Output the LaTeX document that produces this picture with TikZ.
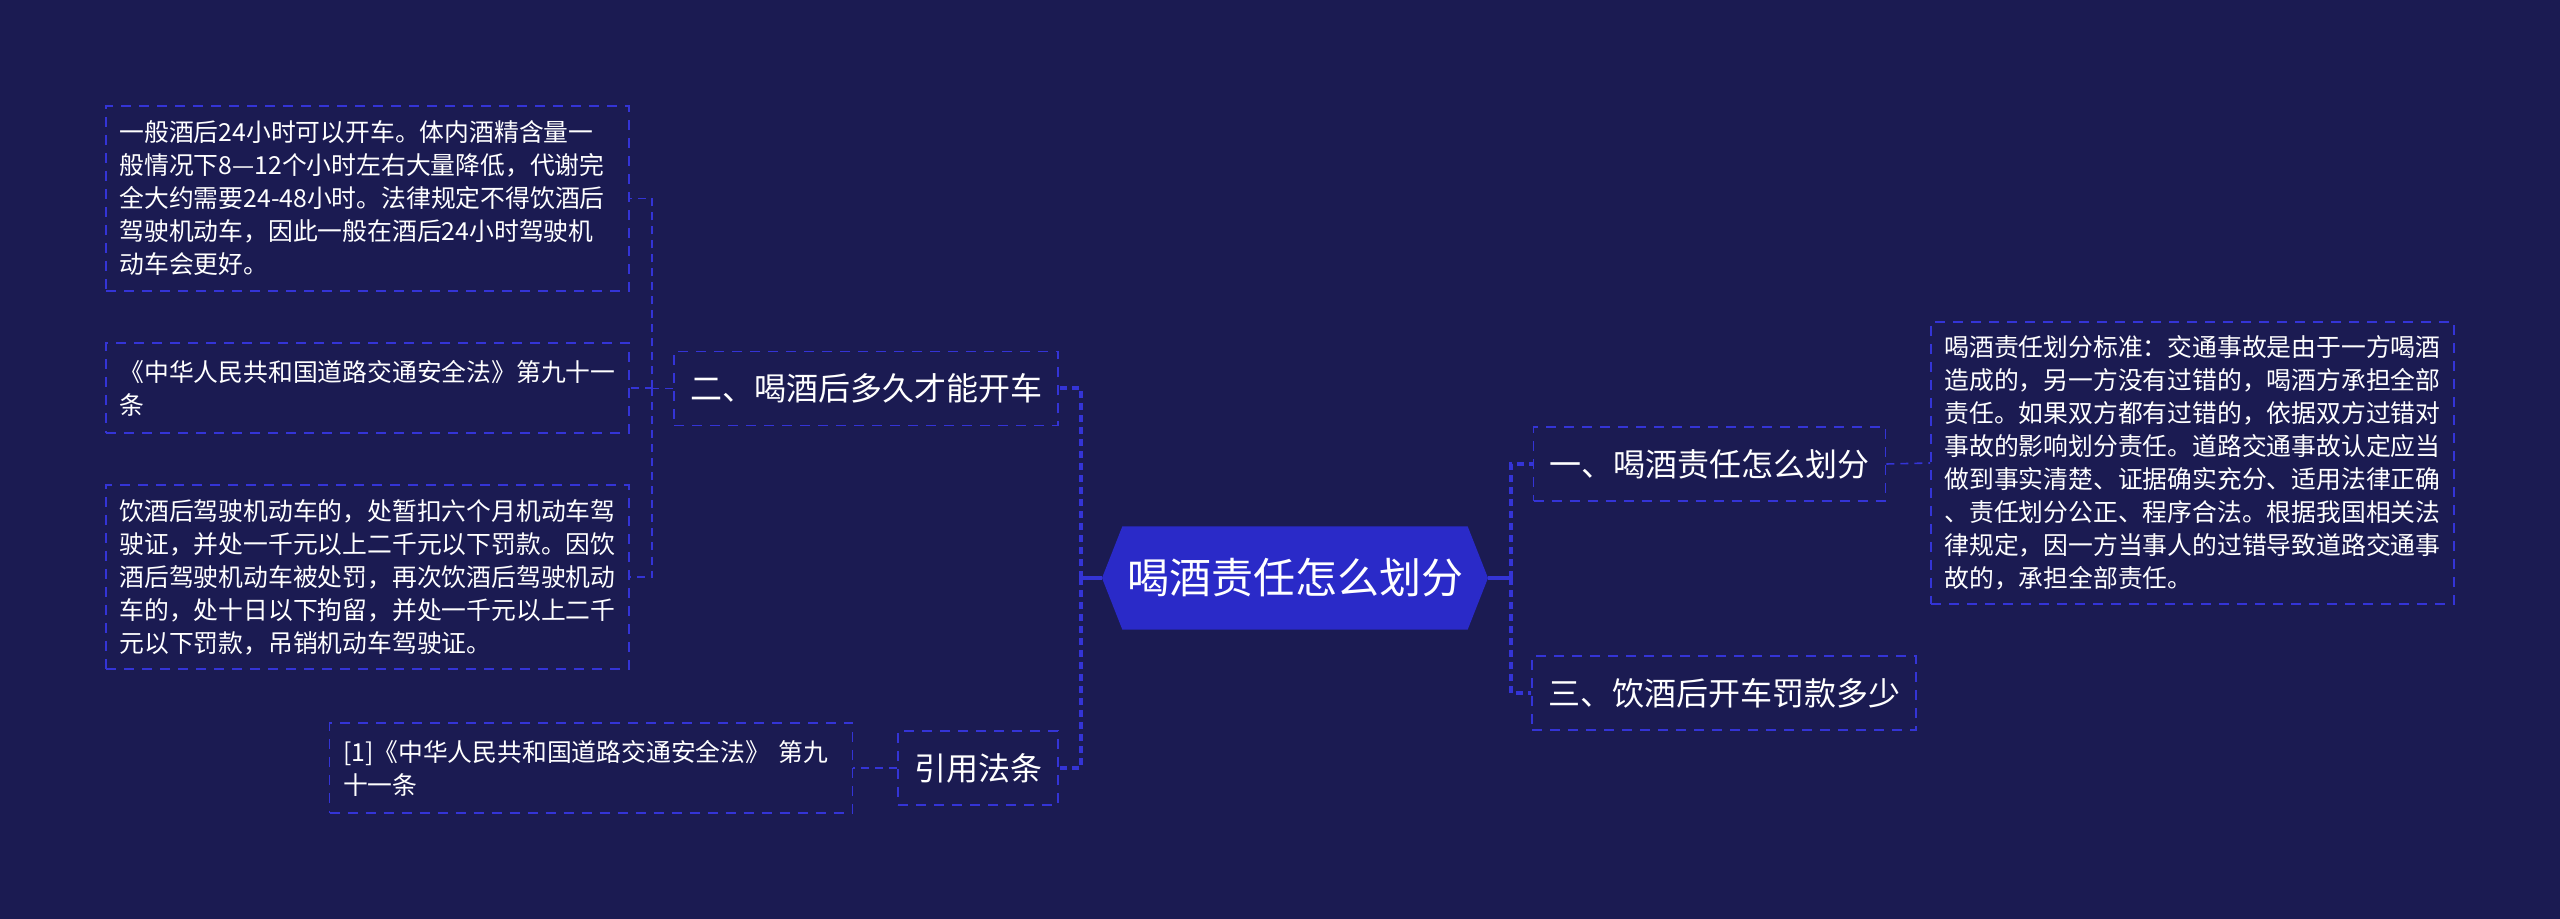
\documentclass[tikz,border=0pt]{standalone}
\usepackage{fontspec}
\setmainfont{Noto Sans CJK SC}
\usetikzlibrary{shapes.symbols}
\definecolor{bgnavy}{RGB}{27,27,82}
\definecolor{linkblue}{RGB}{52,52,214}
\definecolor{hubblue}{RGB}{42,42,200}
\tikzset{
  hub/.style={shape=signal, signal to=west and east, signal pointer angle=137,
    fill=hubblue, text=white, font=\fontsize{21}{25}\selectfont,
    minimum width=193pt, minimum height=51.5pt, inner sep=0pt},
  topic/.style={draw=linkblue, line width=0.8pt, dash pattern=on 5pt off 4pt,
    text=white, font=\fontsize{16}{20}\selectfont,
    inner xsep=8pt, minimum height=37pt},
  note/.style={draw=linkblue, line width=0.8pt, dash pattern=on 5pt off 4pt,
    text=white, font=\fontsize{12.4}{16.5}\selectfont, align=left,
    text width=248pt, inner xsep=6.75pt, inner ysep=6pt},
  hubstub/.style={linkblue, line width=2pt},
  hubline/.style={linkblue, line width=2pt, dash pattern=on 3.5pt off 2.5pt},
  twig/.style={linkblue, line width=0.8pt, dash pattern=on 4pt off 3pt},
}
\begin{document}
\begin{tikzpicture}[x=0.5pt, y=-0.5pt]
  \fill[bgnavy] (0,0) rectangle (2560,919);
  \useasboundingbox (0,0) rectangle (2560,919);
  % centre
  \node[hub] (hub) at (1295,578) {喝酒责任怎么划分};
  % left side
  \node[topic] (q2) at (866,388.5) {二、喝酒后多久才能开车};
  \node[topic] (cite) at (978,768) {引用法条};
  \node[note, minimum height=92.5pt] (wait) at (367.5,198.5) {一般酒后24小时可以开车。体内酒精含量一\\
    般情况下8—12个小时左右大量降低，代谢完\\
    全大约需要24-48小时。法律规定不得饮酒后\\
    驾驶机动车，因此一般在酒后24小时驾驶机\\
    动车会更好。};
  \node[note, minimum height=45pt] (law) at (367.5,388) {《中华人民共和国道路交通安全法》第九十一\\
    条};
  \node[note, minimum height=92pt] (fine) at (367.5,577) {饮酒后驾驶机动车的，处暂扣六个月机动车驾\\
    驶证，并处一千元以上二千元以下罚款。因饮\\
    酒后驾驶机动车被处罚，再次饮酒后驾驶机动\\
    车的，处十日以下拘留，并处一千元以上二千\\
    元以下罚款，吊销机动车驾驶证。};
  \node[note, minimum height=45pt] (ref) at (591,768) {[1]《中华人民共和国道路交通安全法》 第九\\
    十一条};
  % right side
  \node[topic] (q1) at (1709.5,464) {一、喝酒责任怎么划分};
  \node[topic] (q3) at (1724,693) {三、饮酒后开车罚款多少};
  \node[note, minimum height=141pt] (rule) at (2192.5,463) {喝酒责任划分标准：交通事故是由于一方喝酒\\
    造成的，另一方没有过错的，喝酒方承担全部\\
    责任。如果双方都有过错的，依据双方过错对\\
    事故的影响划分责任。道路交通事故认定应当\\
    做到事实清楚、证据确实充分、适用法律正确\\
    、责任划分公正、程序合法。根据我国相关法\\
    律规定，因一方当事人的过错导致道路交通事\\
    故的，承担全部责任。};
  % trunks
  \coordinate (lt) at (1081,578);
  \coordinate (rt) at (1511,578);
  \coordinate (qt) at (652,388.5);
  \draw[hubstub] (hub.west) -- (lt);
  \draw[hubline] (lt) |- (q2.east);
  \draw[hubline] (lt) |- (cite.east);
  \draw[hubstub] (hub.east) -- (rt);
  \draw[hubline] (rt) |- (q1.west);
  \draw[hubline] (rt) |- (q3.west);
  \draw[twig] (q2.west) -- (qt);
  \draw[twig] (qt) |- (wait.east);
  \draw[twig] (qt) |- (law.east);
  \draw[twig] (qt) |- (fine.east);
  \draw[twig] (cite.west) -- (ref.east);
  \draw[twig] (q1.east) -- (rule.west);
\end{tikzpicture}
\end{document}
